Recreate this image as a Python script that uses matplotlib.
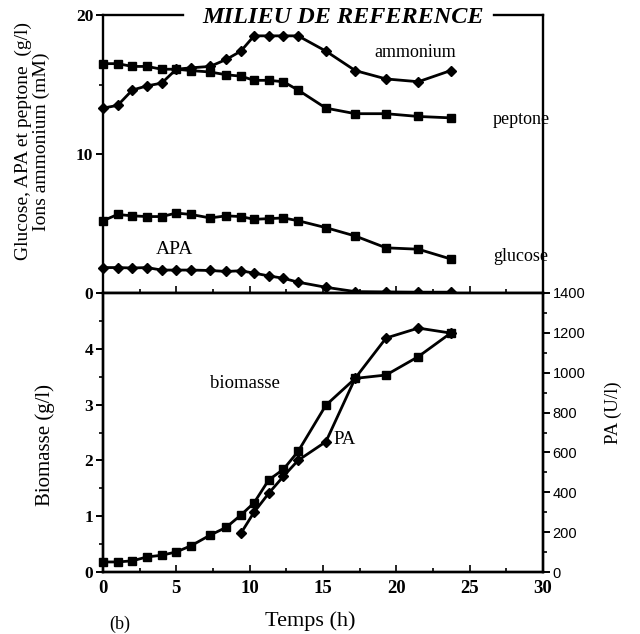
import matplotlib
matplotlib.use("Agg")
import matplotlib.pyplot as plt
from matplotlib.ticker import MultipleLocator

# ---- data ----
temps = [0, 1.0, 2.0, 3.0, 4.0, 5.0, 6.0, 7.3, 8.4, 9.4, 10.3, 11.3, 12.3, 13.3, 15.2, 17.2, 19.3, 21.5, 23.7]
ammonium = [13.3, 13.5, 14.6, 14.9, 15.1, 16.1, 16.2, 16.3, 16.8, 17.4, 18.5, 18.5, 18.5, 18.5, 17.4, 16.0, 15.4, 15.2, 16.0]
peptone = [16.5, 16.5, 16.3, 16.3, 16.1, 16.1, 16.0, 15.9, 15.7, 15.6, 15.3, 15.3, 15.2, 14.6, 13.3, 12.9, 12.9, 12.7, 12.6]
glucose = [5.2, 5.65, 5.55, 5.5, 5.5, 5.75, 5.65, 5.4, 5.55, 5.5, 5.3, 5.35, 5.4, 5.2, 4.7, 4.1, 3.25, 3.15, 2.45]
apa = [1.83, 1.83, 1.8, 1.83, 1.65, 1.65, 1.65, 1.62, 1.55, 1.6, 1.43, 1.23, 1.06, 0.78, 0.41, 0.1, 0.08, 0.06, 0.06]
biomasse = [0.18, 0.18, 0.2, 0.27, 0.3, 0.36, 0.47, 0.66, 0.80, 1.02, 1.24, 1.65, 1.84, 2.16, 2.99, 3.47, 3.53, 3.86, 4.28]
temps_pa = [9.4, 10.3, 11.3, 12.3, 13.3, 15.2, 17.2, 19.3, 21.5, 23.7]
pa = [194, 300, 395, 480, 560, 654, 973, 1174, 1224, 1199]

serif = ["Liberation Serif", "DejaVu Serif"]
sans = ["Liberation Sans", "DejaVu Sans"]
plt.rcParams["font.family"] = serif

fig = plt.figure(figsize=(6.4, 6.34), dpi=100)
L, R = 103 / 640, 543 / 640
ax1 = fig.add_axes([L, 1 - 293 / 634, R - L, (293 - 15) / 634])
ax2 = fig.add_axes([L, 1 - 572 / 634, R - L, (572 - 293) / 634])
ax3 = ax2.twinx()

lw = 2.0
ms = 5.5
kw = dict(color="black", lw=lw, ms=ms, mfc="black", mec="black", clip_on=False, zorder=3)

# top panel
ax1.plot(temps, ammonium, marker="D", **kw)
ax1.plot(temps, peptone, marker="s", **kw)
ax1.plot(temps, glucose, marker="s", **kw)
ax1.plot(temps, apa, marker="D", **kw)
ax1.set_xlim(0, 30)
ax1.set_ylim(0, 20)
ax1.spines["top"].set_visible(False)
for a in (ax1, ax2, ax3):
    for s in a.spines.values():
        s.set_linewidth(1.7)
ax1.plot([0, 0.182], [1, 1], transform=ax1.transAxes, color="black", lw=1.7, clip_on=False)
ax1.plot([0.888, 1], [1, 1], transform=ax1.transAxes, color="black", lw=1.7, clip_on=False)
ax1.text(0.545, 0.99, "MILIEU DE REFERENCE", transform=ax1.transAxes, ha="center", va="center",
         fontsize=17.5, fontweight="bold", fontstyle="italic")
ax1.yaxis.set_major_locator(MultipleLocator(10))
ax1.yaxis.set_minor_locator(MultipleLocator(5))
ax1.xaxis.set_major_locator(MultipleLocator(5))
ax1.xaxis.set_minor_locator(MultipleLocator(2.5))
ax1.tick_params(axis="x", which="both", direction="in", labelbottom=False)
ax1.tick_params(axis="x", which="major", length=5, width=1.2)
ax1.tick_params(axis="x", which="minor", length=3, width=1.2)
ax1.tick_params(axis="y", which="major", direction="out", length=5, width=1.4, labelsize=12.5, pad=2)
ax1.tick_params(axis="y", which="minor", direction="out", length=3, width=1.2)
for t in ax1.get_yticklabels():
    t.set_fontweight("bold")
ax1.set_ylabel("Glucose, APA et peptone  (g/l)\nIons ammonium (mM)", fontsize=14, linespacing=1.05)
ax1.yaxis.set_label_coords(-0.12, 0.545)

ax1.text(21.3, 17.3, "ammonium", ha="center", va="center", fontsize=13)
ax1.text(26.6, 12.45, "peptone", ha="left", va="center", fontsize=13)
ax1.text(26.6, 2.6, "glucose", ha="left", va="center", fontsize=13)
ax1.text(4.9, 3.1, "APA", ha="center", va="center", fontsize=14)

# bottom panel
ax2.plot(temps, biomasse, marker="s", **kw)
ax3.plot(temps_pa, pa, marker="D", **kw)
ax2.set_xlim(0, 30)
ax2.set_ylim(0, 5)
ax3.set_ylim(0, 1400)
ax2.xaxis.set_major_locator(MultipleLocator(5))
ax2.xaxis.set_minor_locator(MultipleLocator(2.5))
ax2.yaxis.set_minor_locator(MultipleLocator(0.5))
ax2.set_yticks([0, 1, 2, 3, 4])
ax3.yaxis.set_major_locator(MultipleLocator(200))
ax3.yaxis.set_minor_locator(MultipleLocator(100))
ax2.tick_params(axis="x", which="major", direction="in", length=5, width=1.2, labelsize=13.5, pad=6)
ax2.tick_params(axis="x", which="minor", direction="in", length=3, width=1.2)
ax2.tick_params(axis="y", which="major", direction="out", length=5, width=1.4, labelsize=12.5, pad=2)
ax2.tick_params(axis="y", which="minor", direction="out", length=3, width=1.2)
ax3.tick_params(axis="y", which="major", direction="out", length=5, width=1.4, labelsize=10.5, pad=2)
ax3.tick_params(axis="y", which="minor", direction="out", length=3, width=1.2)
for t in ax2.get_yticklabels() + ax2.get_xticklabels():
    t.set_fontweight("bold")
for t in ax3.get_yticklabels():
    t.set_fontfamily(sans)
ax2.set_ylabel("Biomasse (g/l)", fontsize=15)
ax2.yaxis.set_label_coords(-0.11, 0.455)
ax3.set_ylabel("PA (U/l)", fontsize=13.5)
ax3.yaxis.set_label_coords(1.14, 0.57)
ax2.set_xlabel("Temps (h)", fontsize=16)
ax2.xaxis.set_label_coords(0.47, -0.14)

ax2.text(9.7, 3.23, "biomasse", ha="center", va="bottom", fontsize=13.5)
ax2.text(15.7, 2.37, "PA", ha="left", va="center", fontsize=13.5)

fig.text(0.17, 0.002, "(b)", ha="left", va="bottom", fontsize=13)

fig.savefig("out.png", dpi=100)
